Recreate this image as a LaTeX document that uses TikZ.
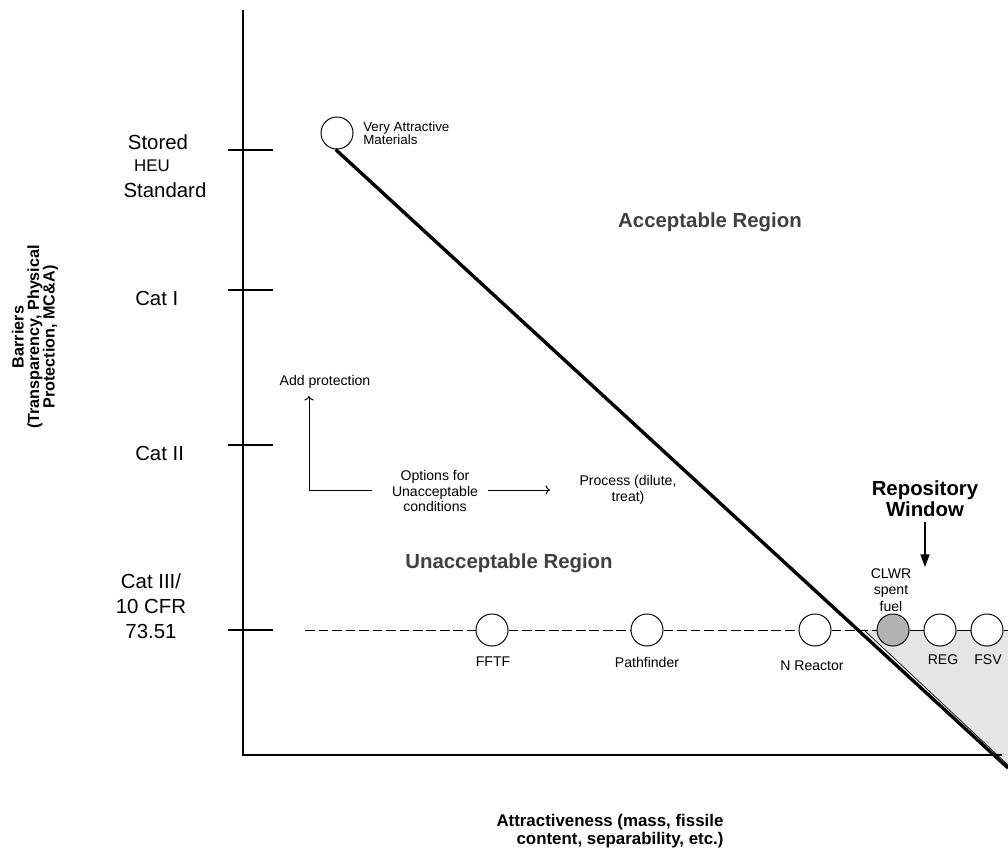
\documentclass[tikz,border=0pt]{standalone}
\usepackage{fontspec}
\setmainfont{Liberation Sans}
\usepackage{tikz}
\usetikzlibrary{shapes,arrows,arrows.meta,positioning,calc}

\tikzset{
    mat/.style={draw, circle, minimum size=0.8cm, inner sep=0pt, fill=white, line width=0.7pt},
    lbl/.style={font=\fontsize{10}{11}\selectfont, align=center},
    catlbl/.style={font=\fontsize{14.5}{17.8}\selectfont, align=center},
    region/.style={font=\bfseries\fontsize{14.5}{17}\selectfont, text=black!75},
    dashline/.style={line width=0.7pt, dash pattern=on 7pt off 2.6pt},
}

\begin{document}
\begin{tikzpicture}[x=0.025cm, y=-0.025cm, line width=0.8pt]
    \useasboundingbox (0,0) rectangle (1008,855);

    % Repository window shading
    \fill[black!10] (864,630) -- (1008,630) -- (1008,765) -- cycle;
    \draw[line width=0.5pt] (864,630) -- (1008,765);

    % Axes
    \draw (243,10) -- (243,755) -- (1002,755);
    \foreach \y in {150,290,445,630}
        \draw (228,\y) -- (273,\y);

    % Barrier levels
    \node[catlbl] (stored) at (158,142) {Stored};
    \node[font=\fontsize{12}{14}\selectfont] (heu) at (152,166) {HEU};
    \node[catlbl] (standard) at (165,190) {Standard};
    \node[catlbl, anchor=west] (cati) at (130,298) {Cat I};
    \node[catlbl, anchor=west] (catii) at (130,453) {Cat II};
    \node[catlbl] (catiii) at (151,606) {Cat III/\\10 CFR\\73.51};

    % Axis labels
    \node[font=\bfseries\fontsize{11.5}{11}\selectfont, align=center, rotate=90] (ylab) at (35,337)
        {Barriers\\(Transparency, Physical\\Protection, MC\&A)};
    \node[font=\bfseries\fontsize{12}{12.8}\selectfont, align=right] (xlab) at (610,831)
        {Attractiveness (mass, fissile\\content, separability, etc.)};

    % Very attractive materials and the boundary
    \node[mat] (vam) at (337,133) {};
    \node[font=\fontsize{9.5}{9.5}\selectfont, align=left, anchor=west] (vamlbl) at (358,133) {Very Attractive\\Materials};
    \coordinate (corner) at (1008,768);
    \draw[line width=2.4pt] (vam.-95) -- (corner);

    % Regions
    \node[region] (acc) at (710,222) {Acceptable Region};
    \node[region] (unacc) at (509,563) {Unacceptable Region};

    % Options
    \node[lbl, font=\fontsize{10}{11.2}\selectfont] (opts) at (435,491) {Options for\\Unacceptable\\conditions};
    \node[lbl] (addp) at (325,382) {Add protection};
    \node[lbl, font=\fontsize{10}{11.8}\selectfont] (proc) at (628,490) {Process (dilute,\\treat)};
    \coordinate (optl) at (372,490);
    \coordinate (addend) at (309,396);
    \coordinate (optr) at (488,490);
    \coordinate (procend) at (550,490);
    \draw[->, line width=0.7pt] (optl) -| (addend);
    \draw[->, line width=0.7pt] (optr) -- (procend);

    % Materials along Cat III line
    \coordinate (dstart) at (305,630);
    \coordinate (dend) at (1008,630);
    \node[mat] (fftf) at (492,630) {};
    \node[mat] (pathf) at (647,630) {};
    \node[mat] (nreact) at (815,630) {};
    \node[mat, fill=black!30] (clwr) at (893,630) {};
    \node[mat] (reg) at (940,630) {};
    \node[mat] (fsv) at (987,630) {};
    \draw[dashline] (dstart) -- (fftf) -- (pathf) -- (nreact) -- (clwr);
    \draw[line width=0.7pt] (clwr) -- (reg) -- (fsv) -- (dend);

    \node[lbl] (fftflbl) at (493,662) {FFTF};
    \node[lbl] (pathflbl) at (647,662) {Pathfinder};
    \node[lbl] (nreactlbl) at (812,666) {N Reactor};
    \node[lbl] (reglbl) at (943,660) {REG};
    \node[lbl] (fsvlbl) at (988,660) {FSV};
    \node[lbl, font=\fontsize{10}{11.7}\selectfont] (clwrlbl) at (891,590) {CLWR\\spent\\fuel};

    % Repository window
    \node[font=\bfseries\fontsize{14.5}{15}\selectfont, align=center] (repo) at (925,499) {Repository\\Window};
    \coordinate (repoend) at (925,567);
    \draw[-{Triangle[length=9pt,width=6.5pt]}, line width=0.8pt] (repo) -- (repoend);
\end{tikzpicture}
\end{document}
